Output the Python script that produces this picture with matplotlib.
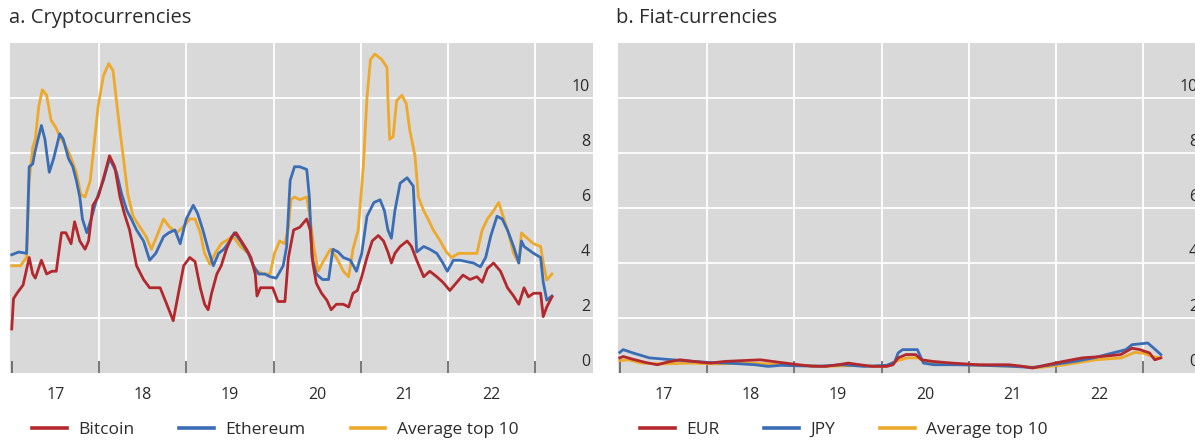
import matplotlib
matplotlib.use("Agg")
import matplotlib.pyplot as plt
from matplotlib.lines import Line2D

plt.rcParams['font.family'] = ['Open Sans', 'DejaVu Sans']

# ---- Panel a: cryptocurrencies (decimal years, volatility) ----
btc_t = [2017.00, 2017.02, 2017.06, 2017.13, 2017.20, 2017.24, 2017.27, 2017.34, 2017.40, 2017.46,
         2017.51, 2017.57, 2017.62, 2017.68, 2017.72, 2017.78, 2017.84, 2017.88, 2017.93, 2017.99,
         2018.07, 2018.12, 2018.18, 2018.24, 2018.29, 2018.35, 2018.43, 2018.51, 2018.58, 2018.70,
         2018.77, 2018.85, 2018.91, 2018.97, 2019.04, 2019.10, 2019.16, 2019.21, 2019.25, 2019.29,
         2019.35, 2019.40, 2019.46, 2019.52, 2019.57, 2019.63, 2019.69, 2019.74, 2019.79, 2019.81,
         2019.85, 2019.92, 2019.99, 2020.05, 2020.13, 2020.17, 2020.23, 2020.30, 2020.38, 2020.42,
         2020.45, 2020.49, 2020.55, 2020.61, 2020.66, 2020.72, 2020.80, 2020.86, 2020.91, 2020.96,
         2021.01, 2021.07, 2021.13, 2021.20, 2021.26, 2021.31, 2021.35, 2021.39, 2021.45, 2021.53,
         2021.58, 2021.64, 2021.72, 2021.79, 2021.87, 2021.94, 2022.02, 2022.10, 2022.17, 2022.25,
         2022.33, 2022.39, 2022.45, 2022.52, 2022.60, 2022.68, 2022.75, 2022.81, 2022.87, 2022.92,
         2022.98, 2023.06, 2023.09, 2023.13, 2023.19]
btc_v = [1.6, 2.7, 2.9, 3.2, 4.2, 3.6, 3.45, 4.1, 3.6, 3.7,
         3.7, 5.1, 5.1, 4.7, 5.5, 4.8, 4.5, 4.8, 6.1, 6.4,
         7.3, 7.9, 7.5, 6.4, 5.8, 5.2, 3.9, 3.4, 3.1, 3.1,
         2.55, 1.9, 2.9, 3.9, 4.2, 4.05, 3.1, 2.5, 2.3, 2.9,
         3.6, 3.9, 4.5, 4.96, 5.1, 4.8, 4.5, 4.2, 3.6, 2.8,
         3.1, 3.1, 3.1, 2.6, 2.6, 4.2, 5.2, 5.3, 5.6, 5.2,
         4.0, 3.26, 2.9, 2.65, 2.3, 2.5, 2.5, 2.4, 2.9, 3.0,
         3.5, 4.2, 4.8, 5.0, 4.8, 4.4, 4.0, 4.35, 4.6, 4.8,
         4.6, 4.1, 3.5, 3.7, 3.5, 3.3, 3.0, 3.3, 3.56, 3.4,
         3.5, 3.3, 3.8, 4.0, 3.7, 3.1, 2.8, 2.5, 3.1, 2.77,
         2.9, 2.9, 2.05, 2.4, 2.77]

eth_t = [2017.00, 2017.08, 2017.17, 2017.20, 2017.24, 2017.27, 2017.34, 2017.38, 2017.43, 2017.48,
         2017.55, 2017.59, 2017.65, 2017.70, 2017.74, 2017.78, 2017.81, 2017.86, 2017.91, 2017.97,
         2018.05, 2018.12, 2018.20, 2018.26, 2018.32, 2018.37, 2018.43, 2018.51, 2018.58, 2018.65,
         2018.74, 2018.80, 2018.87, 2018.93, 2019.00, 2019.08, 2019.13, 2019.19, 2019.25, 2019.31,
         2019.37, 2019.43, 2019.50, 2019.55, 2019.62, 2019.71, 2019.77, 2019.83, 2019.90, 2019.96,
         2020.03, 2020.11, 2020.15, 2020.19, 2020.24, 2020.30, 2020.38, 2020.41, 2020.44, 2020.49,
         2020.56, 2020.63, 2020.68, 2020.74, 2020.80, 2020.88, 2020.95, 2021.01, 2021.07, 2021.15,
         2021.22, 2021.27, 2021.31, 2021.35, 2021.39, 2021.45, 2021.53, 2021.60, 2021.64, 2021.72,
         2021.79, 2021.87, 2021.94, 2021.99, 2022.06, 2022.14, 2022.21, 2022.29, 2022.37, 2022.43,
         2022.49, 2022.56, 2022.62, 2022.68, 2022.75, 2022.81, 2022.84, 2022.87, 2022.98, 2023.06,
         2023.09, 2023.13, 2023.19]
eth_v = [4.3, 4.4, 4.35, 7.5, 7.6, 8.1, 9.0, 8.5, 7.3, 7.8,
         8.7, 8.5, 7.8, 7.5, 7.0, 6.4, 5.6, 5.1, 5.6, 6.3,
         7.0, 7.8, 7.3, 6.5, 5.9, 5.6, 5.2, 4.8, 4.1, 4.35,
         4.96, 5.1, 5.2, 4.7, 5.6, 6.1, 5.8, 5.2, 4.5, 3.9,
         4.35, 4.5, 4.8, 5.1, 4.8, 4.35, 3.9, 3.6, 3.6, 3.5,
         3.45, 3.9, 4.6, 7.0, 7.5, 7.5, 7.4, 6.4, 4.2, 3.6,
         3.4, 3.4, 4.5, 4.4, 4.2, 4.1, 3.7, 4.35, 5.7, 6.2,
         6.3, 5.9, 5.2, 4.9, 5.9, 6.9, 7.1, 6.8, 4.4, 4.6,
         4.5, 4.35, 4.0, 3.7, 4.1, 4.1, 4.05, 4.0, 3.86, 4.2,
         5.0, 5.7, 5.6, 5.2, 4.6, 4.0, 4.8, 4.6, 4.35, 4.2,
         3.3, 2.65, 2.8]

avg_t = [2017.00, 2017.10, 2017.17, 2017.20, 2017.24, 2017.27, 2017.31, 2017.35, 2017.40, 2017.45,
         2017.51, 2017.55, 2017.61, 2017.67, 2017.74, 2017.79, 2017.84, 2017.90, 2017.95, 2017.99,
         2018.05, 2018.11, 2018.16, 2018.20, 2018.24, 2018.28, 2018.33, 2018.39, 2018.47, 2018.54,
         2018.60, 2018.66, 2018.74, 2018.81, 2018.89, 2018.96, 2019.04, 2019.10, 2019.16, 2019.21,
         2019.27, 2019.33, 2019.40, 2019.50, 2019.55, 2019.62, 2019.71, 2019.79, 2019.88, 2019.96,
         2020.01, 2020.07, 2020.13, 2020.17, 2020.20, 2020.24, 2020.30, 2020.38, 2020.42, 2020.46,
         2020.51, 2020.56, 2020.65, 2020.72, 2020.80, 2020.86, 2020.91, 2020.97, 2021.03, 2021.07,
         2021.11, 2021.16, 2021.24, 2021.30, 2021.31, 2021.33, 2021.37, 2021.41, 2021.47, 2021.52,
         2021.56, 2021.62, 2021.66, 2021.72, 2021.77, 2021.83, 2021.91, 2021.98, 2022.04, 2022.12,
         2022.21, 2022.33, 2022.39, 2022.45, 2022.52, 2022.58, 2022.64, 2022.70, 2022.75, 2022.81,
         2022.84, 2022.87, 2022.98, 2023.06, 2023.09, 2023.13, 2023.19]
avg_v = [3.9, 3.9, 4.2, 7.0, 8.2, 8.5, 9.7, 10.3, 10.1, 9.2,
         8.9, 8.6, 8.3, 7.9, 7.3, 6.5, 6.4, 7.0, 8.5, 9.7,
         10.8, 11.25, 11.0, 9.9, 8.8, 7.8, 6.5, 5.7, 5.3, 4.96,
         4.5, 4.96, 5.6, 5.3, 5.1, 5.3, 5.6, 5.6, 5.1, 4.35,
         3.95, 4.35, 4.7, 4.9, 4.9, 4.6, 4.35, 3.75, 3.6, 3.6,
         4.35, 4.8, 4.7, 5.3, 6.3, 6.4, 6.3, 6.4, 5.6, 4.6,
         3.7, 4.0, 4.5, 4.2, 3.7, 3.5, 4.5, 5.2, 7.6, 10.0,
         11.4, 11.6, 11.4, 11.1, 10.0, 8.5, 8.6, 9.9, 10.1, 9.8,
         8.84, 7.9, 6.4, 5.9, 5.6, 5.2, 4.8, 4.4, 4.2, 4.35,
         4.35, 4.35, 5.2, 5.6, 5.9, 6.2, 5.6, 5.0, 4.35, 4.0,
         5.1, 5.0, 4.7, 4.6, 4.0, 3.38, 3.6]

# ---- Panel b: fiat currencies ----
eur_t = [2017.00, 2017.04, 2017.15, 2017.30, 2017.43, 2017.55, 2017.69, 2017.85, 2018.04, 2018.20,
         2018.40, 2018.61, 2018.80, 2019.05, 2019.20, 2019.36, 2019.50, 2019.62, 2019.75, 2019.89,
         2020.06, 2020.13, 2020.19, 2020.28, 2020.39, 2020.46, 2020.59, 2020.81, 2021.11, 2021.30,
         2021.46, 2021.60, 2021.73, 2021.90, 2022.08, 2022.30, 2022.52, 2022.74, 2022.87, 2022.96,
         2023.07, 2023.13, 2023.20]
eur_v = [0.55, 0.6, 0.5, 0.38, 0.3, 0.4, 0.48, 0.42, 0.36, 0.42,
         0.45, 0.48, 0.4, 0.3, 0.25, 0.24, 0.3, 0.36, 0.3, 0.24,
         0.24, 0.3, 0.55, 0.67, 0.67, 0.48, 0.42, 0.36, 0.3, 0.3,
         0.3, 0.25, 0.18, 0.3, 0.42, 0.55, 0.6, 0.67, 0.9, 0.85,
         0.73, 0.48, 0.55]

jpy_t = [2017.00, 2017.04, 2017.15, 2017.34, 2017.60, 2017.85, 2018.04, 2018.30, 2018.55, 2018.70,
         2018.85, 2019.05, 2019.30, 2019.55, 2019.80, 2020.06, 2020.15, 2020.19, 2020.24, 2020.41,
         2020.48, 2020.60, 2020.85, 2021.15, 2021.45, 2021.73, 2021.95, 2022.21, 2022.43, 2022.65,
         2022.80, 2022.87, 2023.05, 2023.12, 2023.20]
jpy_v = [0.75, 0.85, 0.73, 0.55, 0.48, 0.42, 0.38, 0.35, 0.3, 0.24,
         0.28, 0.26, 0.25, 0.3, 0.24, 0.28, 0.4, 0.73, 0.85, 0.85,
         0.36, 0.3, 0.3, 0.28, 0.25, 0.2, 0.3, 0.42, 0.55, 0.73,
         0.85, 1.03, 1.09, 0.9, 0.67]

fxavg_t = [2017.00, 2017.10, 2017.25, 2017.50, 2017.80, 2018.10, 2018.50, 2018.90, 2019.30, 2019.70,
           2020.05, 2020.18, 2020.30, 2020.42, 2020.50, 2020.80, 2021.20, 2021.60, 2021.80, 2022.10,
           2022.45, 2022.75, 2022.90, 2023.00, 2023.10, 2023.20]
fxavg_v = [0.45, 0.48, 0.36, 0.33, 0.36, 0.33, 0.36, 0.3, 0.24, 0.27,
           0.24, 0.45, 0.55, 0.55, 0.38, 0.33, 0.27, 0.24, 0.2, 0.3,
           0.48, 0.55, 0.75, 0.72, 0.6, 0.55]

year_starts = [2017, 2018, 2019, 2020, 2021, 2022, 2023]
year_labels = ["17", "18", "19", "20", "21", "22"]
y_ticks = [0, 2, 4, 6, 8, 10]

RED = "#B3282D"
BLUE = "#3A6DB5"
GOLD = "#EEA82A"
BG = "#D9D9D9"
TXT = "#2B2B2B"

W, H = 1195, 441
fig = plt.figure(figsize=(W / 100, H / 100), dpi=100)


def px_axes(left, top, right, bottom):
    return fig.add_axes([left / W, 1 - bottom / H, (right - left) / W, (bottom - top) / H])


def style(ax):
    ax.set_facecolor(BG)
    for s in ax.spines.values():
        s.set_visible(False)
    ax.set_xlim(2016.98, 2023.66)
    ax.set_ylim(0, 12)
    ax.set_yticks([])
    for y in y_ticks[1:]:
        ax.axhline(y, color="white", lw=1.3, zorder=1)
    for x in year_starts[1:]:
        ax.axvline(x, color="white", lw=1.3, zorder=1)
    ax.set_xticks([y + 0.5 for y in year_starts[:-1]])
    ax.set_xticklabels(year_labels)
    ax.set_xticks(year_starts, minor=True)
    ax.tick_params(axis="x", which="major", length=0, pad=10, labelsize=11.5, labelcolor=TXT)
    ax.tick_params(axis="x", which="minor", direction="in", length=9, width=1.1, color="#555555")
    for y in y_ticks:
        ax.annotate(str(y), xy=(0.995, y), xycoords=("axes fraction", "data"),
                    xytext=(0, 2.5), textcoords="offset points",
                    ha="right", va="bottom", fontsize=11.5, color=TXT)


LW = 2.0

ax1 = px_axes(10, 43, 593, 373)
style(ax1)
ax1.plot(avg_t, avg_v, color=GOLD, lw=LW, zorder=3)
ax1.plot(eth_t, eth_v, color=BLUE, lw=LW, zorder=4)
ax1.plot(btc_t, btc_v, color=RED, lw=LW, zorder=5)

ax2 = px_axes(618, 43, 1201, 373)
style(ax2)
ax2.plot(fxavg_t, fxavg_v, color=GOLD, lw=LW, zorder=3)
ax2.plot(jpy_t, jpy_v, color=BLUE, lw=LW, zorder=4)
ax2.plot(eur_t, eur_v, color=RED, lw=LW, zorder=5)

fig.text(9 / W, 1 - 18 / H, "a. Cryptocurrencies", fontsize=14.5, color=TXT, va="center", ha="left")
fig.text(616 / W, 1 - 18 / H, "b. Fiat-currencies", fontsize=14.5, color=TXT, va="center", ha="left")


def legend(ax, names, x0):
    handles = [Line2D([], [], color=c, lw=2.6) for c in (RED, BLUE, GOLD)]
    ax.legend(handles, names, loc="center left", bbox_to_anchor=(x0, -0.172),
              ncol=3, frameon=False, fontsize=12.5, handlelength=2.0, handletextpad=0.65,
              columnspacing=2.6, borderpad=0, borderaxespad=0, labelcolor=TXT)


legend(ax1, ["Bitcoin", "Ethereum", "Average top 10"], (32 - 10) / 583)
legend(ax2, ["EUR", "JPY", "Average top 10"], (640 - 618) / 583)

fig.savefig("out.png", dpi=100)
